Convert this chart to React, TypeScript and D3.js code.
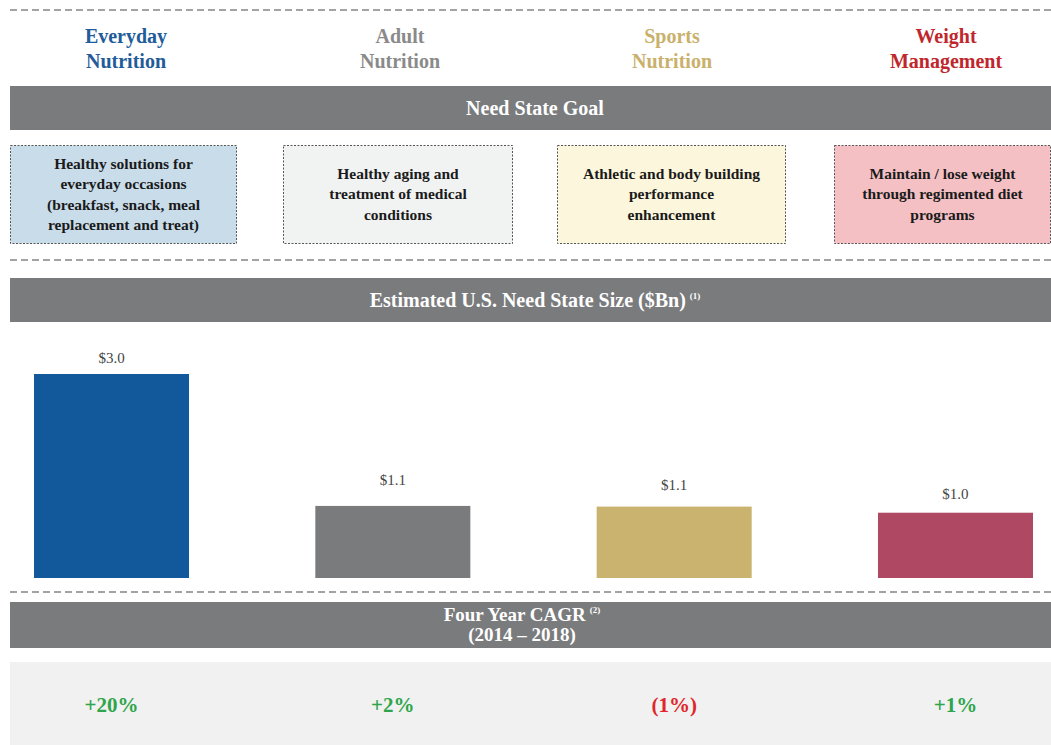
import React from "react";
import * as d3 from "d3";

const categories = ["Everyday Nutrition", "Adult Nutrition", "Sports Nutrition", "Weight Management"];
const headerLines = [["Everyday", "Nutrition"], ["Adult", "Nutrition"], ["Sports", "Nutrition"], ["Weight", "Management"]];
const goalLines = [
  ["Healthy solutions for", "everyday occasions", "(breakfast, snack, meal", "replacement and treat)"],
  ["Healthy aging and", "treatment of medical", "conditions"],
  ["Athletic and body building", "performance", "enhancement"],
  ["Maintain / lose weight", "through regimented diet", "programs"],
];
const sizeValues = [3.0, 1.06, 1.05, 0.96];
const sizeLabels = ["$3.0", "$1.1", "$1.1", "$1.0"];
const cagrLabels = ["+20%", "+2%", "(1%)", "+1%"];
const cagrPositive = [true, true, false, true];

const headerColors = ["#1f5c99", "#8a8a8a", "#c9b06b", "#c0272d"];
const barColors = ["#11599b", "#7a7b7d", "#c9b36e", "#af4862"];
const boxFills = ["#c9dcea", "#f1f2f2", "#fcf6dc", "#f4c0c4"];
const headerX = [126, 400, 672, 946];
const boxX = [[10, 237], [283, 513], [557, 786], [834, 1051]];
const labelGap = [11, 21, 17, 14];

const W = 1051;
const H = 745;
const SERIF = "'Liberation Serif', 'Times New Roman', serif";

export default function App() {
  const x = d3.scaleBand<string>().domain(categories).range([34, 1033]).paddingInner(0.449).paddingOuter(0);
  const y = d3.scaleLinear().domain([0, 3.0]).range([578, 374]);

  const dashed = (yy: number) => (
    <line x1={10} x2={W} y1={yy} y2={yy} stroke="#a3a3a3" strokeWidth={2} strokeDasharray="7,4" />
  );
  const band = (y0: number, h: number) => <rect x={10} y={y0} width={W - 10} height={h} fill="#7a7b7d" />;

  return (
    <svg width={W} height={H} style={{ position: "absolute", left: 0, top: 0, background: "#fff" }} fontFamily={SERIF}>
      {dashed(10)}
      {headerLines.map((lines, i) => (
        <text key={i} x={headerX[i]} textAnchor="middle" fontWeight="bold" fontSize={20} fill={headerColors[i]}>
          {lines.map((l, j) => (
            <tspan key={j} x={headerX[i]} y={43 + j * 25}>{l}</tspan>
          ))}
        </text>
      ))}

      {band(86, 44)}
      <text x={535} y={115} textAnchor="middle" fill="#fff" fontWeight="bold" fontSize={20}>Need State Goal</text>

      {goalLines.map((lines, i) => {
        const [x0, x1] = boxX[i];
        const cx = (x0 + x1) / 2;
        const startY = 194 - ((lines.length - 1) * 20) / 2 + 5;
        return (
          <g key={i}>
            <rect x={x0 + 0.5} y={145.5} width={x1 - x0 - 1} height={98} fill={boxFills[i]} stroke="#555" strokeWidth={1} strokeDasharray="2,1.5" />
            <text textAnchor="middle" fontWeight="bold" fontSize={15.5} fill="#1a1a1a" fontFamily={SERIF}>
              {lines.map((l, j) => (
                <tspan key={j} x={cx} y={startY + j * 20.3}>{l}</tspan>
              ))}
            </text>
          </g>
        );
      })}

      {dashed(260)}
      {band(278, 44)}
      <text x={535} y={307} textAnchor="middle" fill="#fff" fontWeight="bold" fontSize={20}>
        Estimated U.S. Need State Size ($Bn)
        <tspan fontSize={9} dy={-8} dx={4}>(1)</tspan>
      </text>

      {categories.map((c, i) => (
        <g key={c}>
          <rect x={x(c)} y={y(sizeValues[i])} width={x.bandwidth()} height={y(0) - y(sizeValues[i])} fill={barColors[i]} />
          <text x={(x(c) as number) + x.bandwidth() / 2} y={y(sizeValues[i]) - labelGap[i]} textAnchor="middle" fontSize={15} fill="#444">
            {sizeLabels[i]}
          </text>
        </g>
      ))}

      {dashed(592)}
      {band(602, 46)}
      <text x={522} y={621} textAnchor="middle" fill="#fff" fontWeight="bold" fontSize={19}>
        Four Year CAGR
        <tspan fontSize={9} dy={-8} dx={4}>(2)</tspan>
      </text>
      <text x={522} y={641} textAnchor="middle" fill="#fff" fontWeight="bold" fontSize={19}>(2014 – 2018)</text>

      <rect x={10} y={662} width={W - 10} height={H - 662} fill="#f0f1f0" />
      {categories.map((c, i) => (
        <text key={c} x={(x(c) as number) + x.bandwidth() / 2} y={712} textAnchor="middle" fontWeight="bold" fontSize={21}
          fill={cagrPositive[i] ? "#2ea54a" : "#e0252b"}>
          {cagrLabels[i]}
        </text>
      ))}
    </svg>
  );
}
